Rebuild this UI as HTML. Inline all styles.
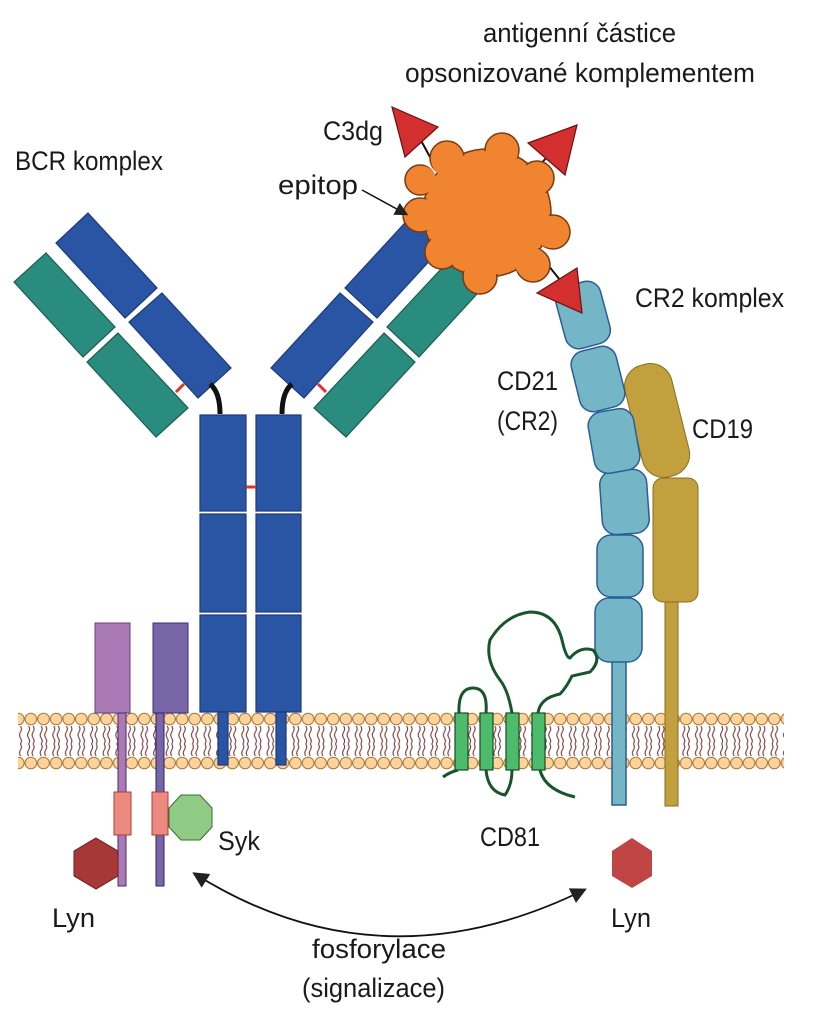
<!DOCTYPE html>
<html><head><meta charset="utf-8"><style>
html,body{margin:0;padding:0;background:#fff}
svg{display:block}
text{font-family:"Liberation Sans Narrow","Liberation Sans",sans-serif;font-size:27px;fill:#1a1a1a}
</style></head><body>
<svg width="814" height="1017" viewBox="0 0 814 1017" xmlns="http://www.w3.org/2000/svg">
<defs>
<pattern id="mem" x="12" y="711" width="12.6" height="60" patternUnits="userSpaceOnUse">
<path d="M4 15 q2 3 0 6 q-2 3 0 6 q2 3 0 6 M8.5 15 q2 3 0 6 q-2 3 0 6 q2 3 0 6 M4 33 q2 3 0 6 q-2 3 0 6 M8.5 33 q2 3 0 6 q-2 3 0 6" fill="none" stroke="#7a3636" stroke-width="1.1"/>
<circle cx="6.3" cy="8" r="5.8" fill="#fbd39b" stroke="#a5732f" stroke-width="1"/>
<circle cx="6.3" cy="52" r="5.8" fill="#fbd39b" stroke="#a5732f" stroke-width="1"/>
</pattern>
<marker id="ah" viewBox="0 0 10 10" refX="8" refY="5" markerWidth="9" markerHeight="9" orient="auto-start-reverse"><path d="M0 0L10 5L0 10z" fill="#222"/></marker>
</defs>

<rect x="18" y="711" width="766" height="60" fill="url(#mem)"/>

<g stroke-width="1.2">
<polygon points="88,213 157,288 125,318 56,243" fill="#2a55a5" stroke="#1c3a7a"/>
<polygon points="162,293 231,368 198,398 129,322" fill="#2a55a5" stroke="#1c3a7a"/>
<polygon points="46,253 115,327 83,357 14,282" fill="#2a8c7e" stroke="#1a5e52"/>
<polygon points="118,333 188,408 156,437 87,362" fill="#2a8c7e" stroke="#1a5e52"/>
<line x1="176" y1="392" x2="184" y2="384" stroke="#e8302a" stroke-width="3"/>
<path d="M210 384 Q220 392 220 414" fill="none" stroke="#111" stroke-width="5"/>
<polygon points="414,213 345,288 377,318 446,243" fill="#2a55a5" stroke="#1c3a7a"/>
<polygon points="340,293 271,368 304,398 373,322" fill="#2a55a5" stroke="#1c3a7a"/>
<polygon points="456,253 387,327 419,357 488,282" fill="#2a8c7e" stroke="#1a5e52"/>
<polygon points="384,333 314,408 346,437 415,362" fill="#2a8c7e" stroke="#1a5e52"/>
<line x1="326" y1="392" x2="318" y2="384" stroke="#e8302a" stroke-width="3"/>
<path d="M292 384 Q282 392 282 414" fill="none" stroke="#111" stroke-width="5"/>
<g fill="#2a55a5" stroke="#1c3a7a">
<rect x="200" y="415" width="46" height="96"/><rect x="256" y="415" width="45" height="96"/>
<rect x="200" y="514" width="46" height="98"/><rect x="256" y="514" width="45" height="98"/>
<rect x="200" y="615" width="46" height="97"/><rect x="256" y="615" width="45" height="97"/>
<rect x="218" y="712" width="10" height="53"/><rect x="276" y="712" width="10" height="53"/>
</g>
<line x1="246" y1="487" x2="256" y2="487" stroke="#e8302a" stroke-width="3"/>
</g>

<rect x="95" y="623" width="35" height="90" fill="#a97ab5" stroke="#6b3f7a"/>
<rect x="118" y="713" width="8" height="173" fill="#a97ab5" stroke="#4a2a6a"/>
<rect x="153" y="623" width="35" height="90" fill="#7866a8" stroke="#3f2f70"/>
<rect x="156" y="713" width="8" height="173" fill="#7866a8" stroke="#2e2266"/>
<rect x="114" y="792" width="17" height="43" fill="#ec8a80" stroke="#b03a3a"/>
<rect x="152" y="792" width="16" height="43" fill="#ec8a80" stroke="#b03a3a"/>
<polygon points="181,795 200,795 212,808 212,827 200,840 181,840 169,827 169,808" fill="#8fcb85" stroke="#3d6b2f"/>
<polygon points="96,838 118,851 118,876 96,889 74,876 74,851" fill="#a83838" stroke="#6b1a1a"/>
<polygon points="632,838 652,851 652,876 632,888 612,876 612,851" fill="#c04444"/>

<rect x="665" y="598" width="13" height="208" fill="#c2a03e" stroke="#8a6d20"/>
<rect x="653" y="478" width="45" height="124" rx="10" fill="#c2a03e" stroke="#8a6d20"/>
<rect x="633" y="363" width="48" height="115" rx="22" transform="rotate(-14 657 420)" fill="#c2a03e" stroke="#8a6d20"/>

<g fill="#74b6c6" stroke="#2a5d9a" stroke-width="1.5">
<rect x="612" y="655" width="14" height="150"/>
<rect x="595" y="598" width="47" height="64" rx="14"/>
<rect x="597" y="535" width="46" height="62" rx="14"/>
<rect x="601" y="470" width="47" height="64" rx="14" transform="rotate(-4 624 502)"/>
<rect x="591" y="410" width="46" height="62" rx="14" transform="rotate(-10 614 441)"/>
<rect x="575" y="348" width="46" height="62" rx="14" transform="rotate(-14 598 379)"/>
<rect x="560" y="283" width="46" height="64" rx="14" transform="rotate(-15 583 315)"/>
</g>

<g fill="none" stroke="#17562a" stroke-width="3">
<path d="M459 713 Q458 688 473 688 Q488 688 486 713"/>
<path d="M512 713 Q508 690 500 680 Q485 660 490 640 Q505 615 530 612 Q555 612 562 640 Q566 658 570 658 Q580 646 593 650 Q602 660 590 672 L572 676 Q566 688 560 694 Q540 698 538 713"/>
<path d="M443 777 Q450 772 458 770"/>
<path d="M486 770 Q488 792 505 795 Q512 785 512 770"/>
<path d="M540 770 Q545 790 575 797"/>
</g>
<g fill="#4cbc6c" stroke="#1a4a26" stroke-width="1.2">
<rect x="455" y="713" width="13" height="57"/><rect x="480" y="713" width="13" height="57"/>
<rect x="506" y="713" width="13" height="57"/><rect x="532" y="713" width="13" height="57"/>
</g>

<g stroke="#111" stroke-width="2">
<line x1="418" y1="135" x2="436" y2="168"/><line x1="533" y1="172" x2="550" y2="154"/><line x1="540" y1="255" x2="560" y2="280"/>
</g>
<g fill="#f08430" stroke="#7a3a10" stroke-width="1.5">
<circle cx="487" cy="213" r="64"/>
<circle cx="447" cy="158" r="17"/><circle cx="502" cy="150" r="17"/><circle cx="537" cy="178" r="17"/>
<circle cx="553" cy="232" r="17"/><circle cx="533" cy="265" r="17"/><circle cx="480" cy="277" r="17"/>
<circle cx="442" cy="252" r="17"/><circle cx="420" cy="215" r="17"/><circle cx="420" cy="180" r="15"/>
</g>
<circle cx="487" cy="213" r="62" fill="#f08430"/>
<circle cx="447" cy="160" r="16" fill="#f08430"/><circle cx="502" cy="152" r="16" fill="#f08430"/><circle cx="535" cy="180" r="16" fill="#f08430"/><circle cx="551" cy="232" r="16" fill="#f08430"/><circle cx="531" cy="263" r="16" fill="#f08430"/><circle cx="480" cy="275" r="16" fill="#f08430"/><circle cx="444" cy="250" r="16" fill="#f08430"/><circle cx="422" cy="215" r="16" fill="#f08430"/><circle cx="422" cy="180" r="14" fill="#f08430"/>
<g fill="#d32f2f" stroke="#6a1010" stroke-width="1.2">
<polygon points="392,107 438,127 405,157"/>
<polygon points="577,125 528,143 565,175"/>
<polygon points="577,268 537,293 582,313"/>
</g>

<line x1="362" y1="190" x2="406" y2="214" stroke="#111" stroke-width="1.5" marker-end="url(#ah)"/>
<path d="M195 874 Q380 990 584 890" fill="none" stroke="#111" stroke-width="1.8" marker-start="url(#ah)" marker-end="url(#ah)"/>

<text x="483" y="42" textLength="193" lengthAdjust="spacingAndGlyphs">antigenní částice</text>
<text x="405" y="82" textLength="350" lengthAdjust="spacingAndGlyphs">opsonizované komplementem</text>
<text x="15" y="170" textLength="148" lengthAdjust="spacingAndGlyphs">BCR komplex</text>
<text x="323" y="140" textLength="60" lengthAdjust="spacingAndGlyphs">C3dg</text>
<text x="278" y="194" textLength="80" lengthAdjust="spacingAndGlyphs">epitop</text>
<text x="635" y="307" textLength="149" lengthAdjust="spacingAndGlyphs">CR2 komplex</text>
<text x="497" y="390" textLength="61" lengthAdjust="spacingAndGlyphs">CD21</text>
<text x="497" y="430" textLength="61" lengthAdjust="spacingAndGlyphs">(CR2)</text>
<text x="692" y="438" textLength="61" lengthAdjust="spacingAndGlyphs">CD19</text>
<text x="218" y="850" textLength="42" lengthAdjust="spacingAndGlyphs">Syk</text>
<text x="480" y="846" textLength="60" lengthAdjust="spacingAndGlyphs">CD81</text>
<text x="52" y="927" textLength="43" lengthAdjust="spacingAndGlyphs">Lyn</text>
<text x="611" y="927" textLength="40" lengthAdjust="spacingAndGlyphs">Lyn</text>
<text x="312" y="958" textLength="134" lengthAdjust="spacingAndGlyphs">fosforylace</text>
<text x="302" y="997" textLength="143" lengthAdjust="spacingAndGlyphs">(signalizace)</text>
</svg>
</body></html>
